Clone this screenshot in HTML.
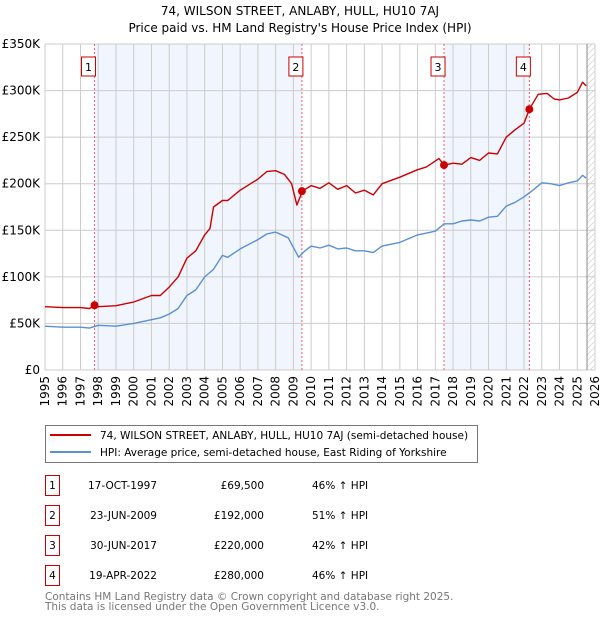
<!DOCTYPE html>
<html><head><meta charset="utf-8"><style>
body{margin:0;background:#fff;font-family:"DejaVu Sans","Liberation Sans",sans-serif;}
#wrap{position:relative;width:600px;height:620px;overflow:hidden}
svg text{font-family:"DejaVu Sans","Liberation Sans",sans-serif}
</style></head><body><div id="wrap">
<svg id="chart" width="600" height="620"></svg>
</div>
<script>
const hpiYears=[1995,1996,1997,1997.5,1998,1999,2000,2001,2001.5,2002,2002.5,2003,2003.5,2004,2004.5,2005,2005.3,2006,2007,2007.5,2008,2008.7,2009.1,2009.3,2009.6,2010,2010.5,2011,2011.5,2012,2012.5,2013,2013.5,2014,2015,2016,2016.5,2017,2017.5,2018,2018.5,2019,2019.5,2020,2020.5,2021,2021.5,2022,2022.5,2023,2023.5,2024,2024.5,2025,2025.3,2025.5];
const hpiValues=[47,46,46,45,48,47,50,54,56,60,66,80,86,100,108,123,121,130,140,146,148,142,128,121,127,133,131,134,130,131,128,128,126,133,137,145,147,149,157,157,160,161,160,164,165,176,180,186,193,201,200,198,201,203,209,206];
const priceYears=[1995,1996,1997,1997.5,1997.8,1998,1999,2000,2001,2001.5,2002,2002.5,2003,2003.5,2004,2004.3,2004.5,2005,2005.3,2006,2007,2007.5,2008,2008.5,2008.9,2009.2,2009.5,2010,2010.5,2011,2011.5,2012,2012.5,2013,2013.5,2014,2015,2016,2016.5,2017.2,2017.5,2018,2018.5,2019,2019.5,2020,2020.5,2021,2021.5,2022,2022.3,2022.8,2023.3,2023.7,2024,2024.5,2025,2025.3,2025.5];
const priceValues=[68,67,67,66,69.5,68,69,73,80,80,89,100,120,128,145,152,175,182,182,193,205,213,214,210,200,177,192,198,195,201,194,198,190,193,188,200,207,215,218,227,220,222,221,228,225,233,232,250,258,265,280,296,297,291,290,292,298,309,305];
const saleYears=[1997.79,2009.48,2017.49,2022.30];
const saleValues=[69.5,192,220,280];
const saleLabels=["1","2","3","4"];
const yTicks=[0,50,100,150,200,250,300,350];
const yTickLabels=["£0","£50K","£100K","£150K","£200K","£250K","£300K","£350K"];
const xTicks=[];for(let y=1995;y<=2026;y++)xTicks.push(y);
const tableDates=["17-OCT-1997","23-JUN-2009","30-JUN-2017","19-APR-2022"];
const tablePrices=["£69,500","£192,000","£220,000","£280,000"];
const tableHpi=["46% ↑ HPI","51% ↑ HPI","42% ↑ HPI","46% ↑ HPI"];

const X0=45,X1=595,Y0=370,Y1=44;
const xs=y=>X0+(y-1995)/(2026-1995)*(X1-X0);
const ys=v=>Y0-v/350*(Y0-Y1);
const svg=document.getElementById('chart');
const NS='http://www.w3.org/2000/svg';
function mk(tag,attrs,parent){const e=document.createElementNS(NS,tag);for(const k in attrs)e.setAttribute(k,attrs[k]);(parent||svg).appendChild(e);return e;}

let t=mk('text',{x:300,y:15,'text-anchor':'middle','font-size':12,fill:'#000'});t.textContent='74, WILSON STREET, ANLABY, HULL, HU10 7AJ';


t=mk('text',{x:300,y:32,'text-anchor':'middle','font-size':12,fill:'#000'});t.textContent="Price paid vs. HM Land Registry's House Price Index (HPI)";



for(const [a,b] of [[0,1],[2,3]]){
 const r=mk('rect',{x:xs(saleYears[a]),y:Y1,width:xs(saleYears[b])-xs(saleYears[a]),height:Y0-Y1,fill:'#eef2fc',opacity:0.8});
 
 
}
const defs=mk('defs',{});
const pat=mk('pattern',{id:'hatch',width:6,height:6,patternUnits:'userSpaceOnUse'},defs);
mk('path',{d:'M0,6 L6,0',stroke:'#d4d4d4','stroke-width':0.8},pat);
const hx=xs(2025.55);
let h=mk('rect',{x:hx,y:Y1,width:X1-hx,height:Y0-Y1,fill:'url(#hatch)'});



xTicks.forEach(y=>{const l=mk('line',{x1:xs(y),x2:xs(y),y1:Y1,y2:Y0,stroke:'#cccccc','stroke-width':1});
 
 
 const tx=mk('text',{transform:`translate(${xs(y)+4},${Y0+6}) rotate(-90)`,'text-anchor':'end','font-size':12,fill:'#000'});tx.textContent=y;
 
 
});
yTicks.forEach((v,i)=>{const l=mk('line',{x1:X0,x2:X1,y1:ys(v),y2:ys(v),stroke:'#cccccc','stroke-width':1});
 
 
 const tx=mk('text',{x:40,y:ys(v)+4,'text-anchor':'end','font-size':12,fill:'#000'});tx.textContent=yTickLabels[i];
 
 
});
let vl=mk('line',{x1:hx,x2:hx,y1:Y1,y2:Y0,stroke:'#888','stroke-width':1});



saleYears.forEach((y,i)=>{
 const l=mk('line',{x1:xs(y),x2:xs(y),y1:Y1,y2:Y0,stroke:'#f06070','stroke-width':1,'stroke-dasharray':'2,2'});
 
 
 const g=mk('g',{});
 
 
 mk('rect',{x:xs(y)-13,y:57,width:14,height:19,fill:'#fff',stroke:'#cc0000','stroke-width':1},g);
 const tt=mk('text',{x:xs(y)-6,y:71,'text-anchor':'middle','font-size':11,fill:'#000'},g);tt.textContent=saleLabels[i];
});

function line(xa,va,color,name){
 const p=mk('polyline',{points:xa.map((y,i)=>xs(y).toFixed(1)+','+ys(va[i]).toFixed(1)).join(' '),fill:'none',stroke:color,'stroke-width':1.4,'stroke-linejoin':'round'});
 
 
}
line(hpiYears,hpiValues,'#5b8fd6','hpi-line');
line(priceYears,priceValues,'#cc0000','price-line');
saleYears.forEach((y,i)=>{const c=mk('circle',{cx:xs(y),cy:ys(saleValues[i]),r:4,fill:'#cc0000'});
 
 });

const lg=mk('g',{});


mk('rect',{x:45.5,y:425.5,width:432,height:37,fill:'#fff',stroke:'#777'},lg);
mk('line',{x1:50,x2:91,y1:435,y2:435,stroke:'#cc0000','stroke-width':2},lg);
mk('line',{x1:50,x2:91,y1:452,y2:452,stroke:'#5b8fd6','stroke-width':2},lg);
t=mk('text',{x:100,y:439,'font-size':10.5,fill:'#000'},lg);t.textContent='74, WILSON STREET, ANLABY, HULL, HU10 7AJ (semi-detached house)';


t=mk('text',{x:100,y:456,'font-size':10.5,fill:'#000'},lg);t.textContent='HPI: Average price, semi-detached house, East Riding of Yorkshire';



tableDates.forEach((d,i)=>{
 const y0=475+i*30;
 const g=mk('g',{});
 
 
 mk('rect',{x:45.5,y:y0+0.5,width:14,height:20,fill:'#fff',stroke:'#cc0000'},g);
 let a=mk('text',{x:52.5,y:y0+14,'text-anchor':'middle','font-size':10.5},g);a.textContent=saleLabels[i];
 a=mk('text',{x:157,y:y0+14,'text-anchor':'end','font-size':10.5},g);a.textContent=d;
 a=mk('text',{x:264,y:y0+14,'text-anchor':'end','font-size':10.5},g);a.textContent=tablePrices[i];
 a=mk('text',{x:312,y:y0+14,'font-size':10.5},g);a.textContent=tableHpi[i];
});
t=mk('text',{x:45,y:600,'font-size':10.5,fill:'#777'});t.textContent='Contains HM Land Registry data © Crown copyright and database right 2025.';


t=mk('text',{x:45,y:610,'font-size':10.5,fill:'#777'});t.textContent='This data is licensed under the Open Government Licence v3.0.';


</script></body></html>
